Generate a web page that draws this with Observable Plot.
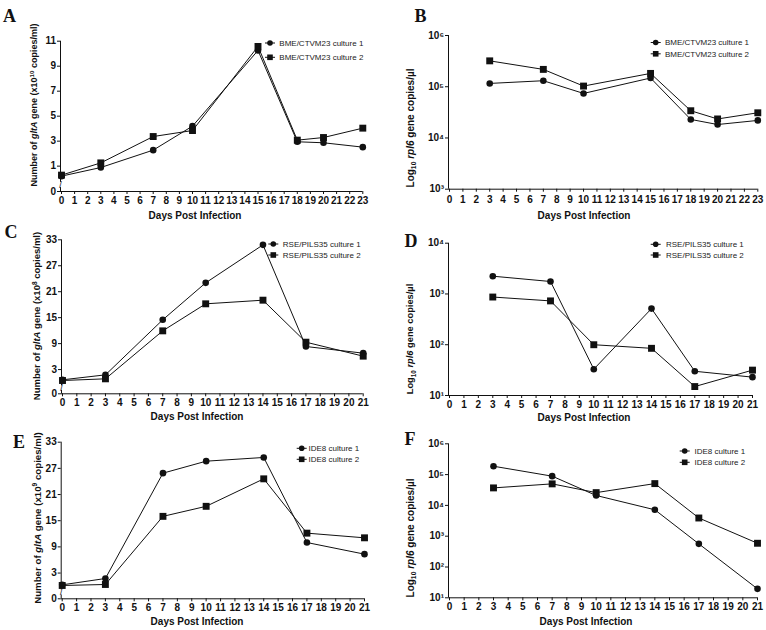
<!DOCTYPE html>
<html><head><meta charset="utf-8">
<script src="https://cdn.jsdelivr.net/npm/d3@7"></script>
<script src="https://cdn.jsdelivr.net/npm/@observablehq/plot@0.6"></script>
<style>
body{margin:0;background:#fff;}
#fig{position:relative;width:766px;height:630px;overflow:hidden;background:#fff;}
.panel{position:absolute;}
#overlay{position:absolute;left:0;top:0;}
</style></head><body><div id="fig"></div>
<script>
// ---------------- data ----------------
const daysA = [0, 3, 7, 10, 15, 18, 20, 23];
const aCulture1 = [0.20, 0.89, 2.28, 4.20, 10.26, 2.95, 2.87, 2.52];
const aCulture2 = [0.28, 1.26, 3.37, 3.85, 10.58, 3.08, 3.29, 4.04];

const daysB = [3, 7, 10, 15, 18, 20, 23];
const bCulture1 = [1.16e5, 1.31e5, 7.4e4, 1.48e5, 2.3e4, 1.83e4, 2.2e4];
const bCulture2 = [3.2e5, 2.18e5, 1.03e5, 1.82e5, 3.4e4, 2.35e4, 3.1e4];

const daysC = [0, 3, 7, 10, 14, 17, 21];
const cCulture1 = [0.63, 1.78, 14.5, 23.05, 31.83, 8.33, 6.79];
const cCulture2 = [0.47, 0.86, 11.95, 18.2, 19.04, 9.33, 6.1];

const daysD = [3, 7, 10, 14, 17, 21];
const dCulture1 = [2240, 1760, 33, 515, 30, 23];
const dCulture2 = [870, 730, 100, 85, 15, 31.6];

const daysE = [0, 3, 7, 10, 14, 17, 21];
const eCulture1 = [0.30, 1.75, 25.9, 28.65, 29.5, 10.0, 7.33];
const eCulture2 = [0.15, 0.38, 16.0, 18.3, 24.6, 12.15, 11.08];

const daysF = [3, 7, 10, 14, 17, 21];
const fCulture1 = [1.87e5, 8.9e4, 2.1e4, 7.2e3, 565, 19.5];
const fCulture2 = [3.7e4, 5.0e4, 2.6e4, 5.1e4, 3.9e3, 590];

const ticksA = [0, 1, 3, 5, 7, 9, 11];
const ticksCE = [0, 3, 9, 15, 21, 27, 33];
const ticksB = [1e3, 1e4, 1e5, 1e6];
const ticksD = [1e1, 1e2, 1e3, 1e4];
const ticksF = [1e1, 1e2, 1e3, 1e4, 1e5, 1e6];

const legendAB = ["BME/CTVM23 culture 1", "BME/CTVM23 culture 2"];
const legendCD = ["RSE/PILS35 culture 1", "RSE/PILS35 culture 2"];
const legendEF = ["IDE8 culture 1", "IDE8 culture 2"];

// ---------------- helpers ----------------
const INK = "#111";
const FONT = "'Liberation Sans', Arial, Helvetica, sans-serif";
const SUP = {"0":"⁰","1":"¹","2":"²","3":"³","4":"⁴","5":"⁵","6":"⁶","7":"⁷","8":"⁸","9":"⁹"};
const logFmt = d => "10" + String(Math.round(Math.log10(d))).split("").map(c => SUP[c]).join("");

const W = 383, H = 210;
const fig = document.getElementById("fig");

function panel(p) {
  const lx0 = p.xPix[0] - p.left, lx1 = p.xPix[1] - p.left;
  const yr = p.yPix.map(v => v - p.top);
  const axisXpos = lx0 - 1;
  const bottom = yr[0], topPx = yr[yr.length - 1];
  const s1 = p.days.map((d, i) => ({day: d, v: p.c1[i]}));
  const s2 = p.days.map((d, i) => ({day: d, v: p.c2[i]}));
  const yMin = p.yDomain[0], yMax = p.yDomain[p.yDomain.length - 1];
  const marks = [];
  // axis lines
  marks.push(Plot.ruleY([yMin], {x1: 0, x2: p.xMax, insetLeft: -1, stroke: INK, strokeWidth: 1}));
  if (p.log) {
    marks.push(Plot.ruleX([0], {y1: yMin, y2: yMax, dx: -1, stroke: INK, strokeWidth: 1}));
  } else {
    marks.push(Plot.ruleX([0], {y1: 0, y2: 0.003, dx: -1, stroke: INK, strokeWidth: 1}));
    marks.push(Plot.ruleX([0], {y1: 0.007, y2: yMax, dx: -1, stroke: INK, strokeWidth: 1}));
    marks.push(Plot.text([0.005], {x: 0, y: d => d, text: () => "/", dx: -1, fontSize: 9, fontWeight: "normal", fill: INK}));
  }
  marks.push(Plot.axisX({ticks: d3.range(0, p.xMax + 1), tickSize: 3, tickPadding: p.xPad ?? 2, tickFormat: d => String(d), label: null}));
  marks.push(Plot.axisY({ticks: p.yTicks, tickSize: 3, tickPadding: 1.5, tickFormat: p.log ? logFmt : (d => String(d)), label: null}));
  // data
  marks.push(Plot.line(s1, {x: "day", y: "v", stroke: INK, strokeWidth: 1}));
  marks.push(Plot.dot(s1, {x: "day", y: "v", symbol: "circle", r: 3.3, fill: INK, stroke: "none"}));
  marks.push(Plot.line(s2, {x: "day", y: "v", stroke: INK, strokeWidth: 1}));
  marks.push(Plot.dot(s2, {x: "day", y: "v", symbol: "square", r: 3.9, fill: INK, stroke: "none"}));

  const chart = Plot.plot({
    width: W, height: H,
    marginLeft: axisXpos, marginRight: W - lx1, marginTop: topPx, marginBottom: H - bottom,
    style: {background: "none", overflow: "visible", fontFamily: FONT, fontSize: "10px", fontWeight: "bold", color: INK},
    x: {type: "linear", domain: [0, p.xMax], range: [lx0, lx1]},
    y: p.log ? {type: "log", domain: p.yDomain, range: yr} : {type: "linear", domain: p.yDomain, range: yr},
    marks
  });
  chart.classList.add("panel");
  chart.style.left = p.left + "px";
  chart.style.top = p.top + "px";
  chart.style.position = "absolute";
  fig.appendChild(chart);
}

panel({left: 0, top: 0, days: daysA, c1: aCulture1, c2: aCulture2, xMax: 23, xPix: [61, 362.3],
  yDomain: [0, 0.01, 11], yPix: [191, 178, 40.7], yTicks: ticksA});
panel({left: 383, top: 0, days: daysB, c1: bCulture1, c2: bCulture2, xMax: 23, xPix: [449, 757.3],
  log: true, yDomain: [1e3, 1e6], yPix: [188.7, 35], yTicks: ticksB, xPad: 3.5});
panel({left: 0, top: 210, days: daysC, c1: cCulture1, c2: cCulture2, xMax: 21, xPix: [62, 362.7],
  yDomain: [0, 0.01, 33], yPix: [393.3, 382, 239.3], yTicks: ticksCE});
panel({left: 383, top: 210, days: daysD, c1: dCulture1, c2: dCulture2, xMax: 21, xPix: [449, 752],
  log: true, yDomain: [10, 1e4], yPix: [395, 242.7], yTicks: ticksD});
panel({left: 0, top: 420, days: daysE, c1: eCulture1, c2: eCulture2, xMax: 21, xPix: [61.7, 364],
  yDomain: [0, 0.01, 33], yPix: [598.3, 585.6, 441.7], yTicks: ticksCE});
panel({left: 383, top: 420, days: daysF, c1: fCulture1, c2: fCulture2, xMax: 21, xPix: [449, 757],
  log: true, yDomain: [10, 1e6], yPix: [597.3, 443.3], yTicks: ticksF});

// ---------------- annotation overlay (letters, axis titles, legends) ----------------
const NS = "http://www.w3.org/2000/svg";
const ov = document.createElementNS(NS, "svg");
ov.setAttribute("id", "overlay");
ov.setAttribute("width", 766); ov.setAttribute("height", 630);
ov.style.fontFamily = FONT; ov.style.fill = INK;
fig.appendChild(ov);
let svg = "";

const letters = [["A", 3, 22], ["B", 414.5, 21.7], ["C", 4.5, 238.3], ["D", 404.5, 246.5], ["E", 13, 448.3], ["F", 404.5, 445]];
letters.forEach(([t, x, y]) => {
  svg += `<text x="${x}" y="${y}" font-family="'Liberation Serif','Times New Roman',serif" font-weight="bold" font-size="18">${t}</text>`;
});

const xTitles = [[195, 218.6], [584, 218.6], [197, 419.6], [584, 420.6], [197, 624.6], [586, 624.6]];
xTitles.forEach(([x, y]) => {
  svg += `<text x="${x}" y="${y}" text-anchor="middle" font-weight="bold" font-size="10">Days Post Infection</text>`;
});

function gltaTitle(cx, cy, size, exp) {
  return `<text transform="translate(${cx},${cy}) rotate(-90)" y="${size * 0.36}" text-anchor="middle" font-weight="bold" font-size="${size}">Number of <tspan font-style="italic">gltA</tspan> gene (x10<tspan dy="${-size * 0.38}" font-size="${size * 0.68}">${exp}</tspan><tspan dy="${size * 0.38}"> copies/ml)</tspan></text>`;
}
function rplTitle(cx, cy, size) {
  return `<text transform="translate(${cx},${cy}) rotate(-90)" y="${size * 0.36}" text-anchor="middle" font-weight="bold" font-size="${size}">Log<tspan dy="${size * 0.25}" font-size="${size * 0.68}">10</tspan><tspan dy="${-size * 0.25}"> </tspan><tspan font-style="italic">rpl6</tspan> gene copies/µl</text>`;
}
svg += gltaTitle(34, 105, 9, "10");
svg += gltaTitle(37, 316, 9.5, "8");
svg += gltaTitle(37, 518, 9.7, "9");
svg += rplTitle(410, 128, 10);
svg += rplTitle(410, 339, 9.3);
svg += rplTitle(410, 538, 10);

function legend(mx, ys, tx, labels) {
  ys.forEach((y, i) => {
    svg += `<line x1="${mx - 5}" x2="${mx + 5}" y1="${y}" y2="${y}" stroke="${INK}" stroke-width="1"/>`;
    if (i === 0) svg += `<circle cx="${mx}" cy="${y}" r="2.8" fill="${INK}"/>`;
    else svg += `<rect x="${mx - 2.8}" y="${y - 2.8}" width="5.6" height="5.6" fill="${INK}"/>`;
    svg += `<text x="${tx}" y="${y + 2.9}" font-size="8" fill="#222">${labels[i]}</text>`;
  });
}
legend(270, [43, 57.3], 279.3, legendAB);
legend(655.7, [42.5, 53.8], 665, legendAB);
legend(273.3, [244, 255], 282.8, legendCD);
legend(655.7, [244.3, 255], 666, legendCD);
legend(301.7, [448.3, 459.3], 308.5, legendEF);
legend(684.7, [451, 462.3], 694.5, legendEF);

ov.innerHTML = svg;
</script>
</body></html>
